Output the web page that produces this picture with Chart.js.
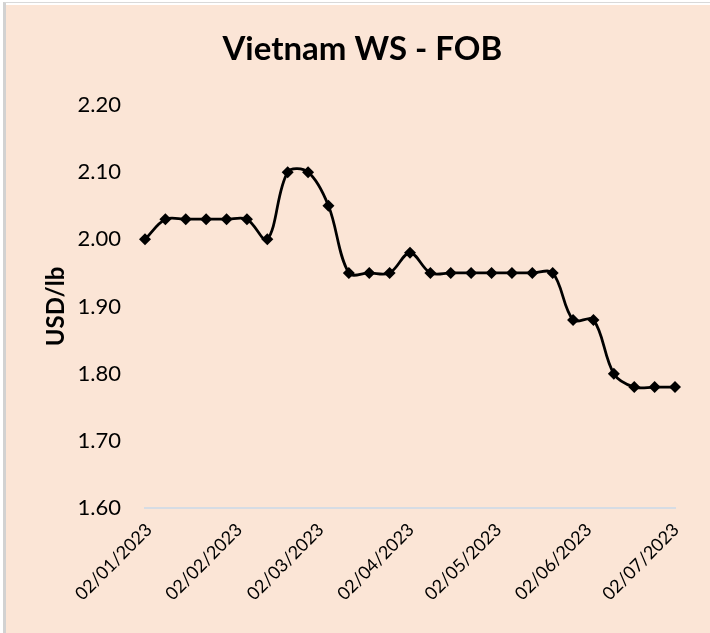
<!DOCTYPE html>
<html>
<head>
<meta charset="utf-8">
<script src="https://cdn.jsdelivr.net/npm/chart.js@4.4.1/dist/chart.umd.min.js"></script>
<style>
  html, body { margin: 0; padding: 0; background: #fff; }
  #frame { position: absolute; left: 3px; top: 2px; width: 720px; height: 640px;
           border-top: 1px solid #d9d9d9; border-left: 3px solid #d2d2d2; background: #fff; }
  #fill { position: absolute; left: 0; top: 2px; right: 0; bottom: 0; background: #FBE5D6; }
  #chart { position: absolute; left: 0; top: 0; }
</style>
</head>
<body>
<div id="frame"><div id="fill"></div></div>
<canvas id="chart" width="710" height="633"></canvas>
<script>
// weekly FOB price, USD/lb
const dates = [
  "2023-01-02", "2023-01-09", "2023-01-16", "2023-01-23", "2023-01-30",
  "2023-02-06", "2023-02-13", "2023-02-20", "2023-02-27",
  "2023-03-06", "2023-03-13", "2023-03-20", "2023-03-27",
  "2023-04-03", "2023-04-10", "2023-04-17", "2023-04-24",
  "2023-05-01", "2023-05-08", "2023-05-15", "2023-05-22", "2023-05-29",
  "2023-06-05", "2023-06-12", "2023-06-19", "2023-06-26", "2023-07-03"
];
const prices = [
  2.00, 2.03, 2.03, 2.03, 2.03,
  2.03, 2.00, 2.10, 2.10,
  2.05, 1.95, 1.95, 1.95,
  1.98, 1.95, 1.95, 1.95,
  1.95, 1.95, 1.95, 1.95, 1.88,
  1.88, 1.80, 1.78, 1.78, 1.78
];
const tickLabels = ["02/01/2023", "02/02/2023", "02/03/2023", "02/04/2023", "02/05/2023", "02/06/2023", "02/07/2023"];
const yTicks = [1.60, 1.70, 1.80, 1.90, 2.00, 2.10, 2.20];

const start = Date.UTC(2023, 0, 2);
function dayOf(iso) {
  const [y, m, d] = iso.split("-").map(Number);
  return (Date.UTC(y, m - 1, d) - start) / 864e5;
}
function dayOfLabel(s) {
  const [d, m, y] = s.split("/");
  return dayOf(y + "-" + m + "-" + d);
}

const points = dates.map((d, i) => ({ x: dayOf(d), y: prices[i] }));
const tickDays = tickLabels.map(dayOfLabel);

const font = "Lato, 'Open Sans', sans-serif";

new Chart(document.getElementById("chart"), {
  type: "line",
  data: {
    datasets: [{
      data: points,
      borderColor: "#000",
      backgroundColor: "#000",
      borderWidth: 2.75,
      tension: 0.35,
      pointStyle: "rectRot",
      pointRadius: 6,
      pointHoverRadius: 6,
      pointBackgroundColor: "#000",
      pointBorderColor: "#000",
      pointBorderWidth: 0,
      clip: false
    }]
  },
  options: {
    responsive: false,
    animation: false,
    events: [],
    layout: { padding: { left: 49.6, right: 35, top: 0, bottom: 0 } },
    plugins: {
      legend: { display: false },
      tooltip: { enabled: false },
      title: {
        display: true,
        text: "Vietnam WS - FOB",
        color: "#000",
        font: { family: font, size: 33, weight: "bold" },
        padding: { top: 30, bottom: 35.4 }
      }
    },
    scales: {
      x: {
        type: "linear",
        min: dayOf(dates[0]),
        max: dayOf(dates[dates.length - 1]),
        grid: { display: false, drawTicks: false },
        border: { display: true, color: "#D6DCE4", width: 2 },
        afterBuildTicks: s => { s.ticks = tickDays.map(v => ({ value: v })); },
        afterFit: s => { s.height = 125; },
        ticks: {
          autoSkip: false,
          minRotation: 45,
          maxRotation: 45,
          padding: 11,
          labelOffset: 4,
          color: "#000",
          font: { family: font, size: 18 },
          callback: (v, i) => tickLabels[i]
        }
      },
      y: {
        min: yTicks[0],
        max: yTicks[yTicks.length - 1],
        grid: { display: false, drawTicks: false },
        border: { display: false },
        afterBuildTicks: s => { s.ticks = yTicks.map(v => ({ value: v })); },
        afterFit: s => { s.width = 95.4; },
        title: {
          display: true,
          text: "USD/lb",
          color: "#000",
          padding: { top: -8, bottom: 4 },
          font: { family: font, size: 24, weight: "bold" }
        },
        ticks: {
          padding: 24,
          color: "#000",
          font: { family: font, size: 22 },
          callback: v => v.toFixed(2)
        }
      }
    }
  }
});
</script>
</body>
</html>
